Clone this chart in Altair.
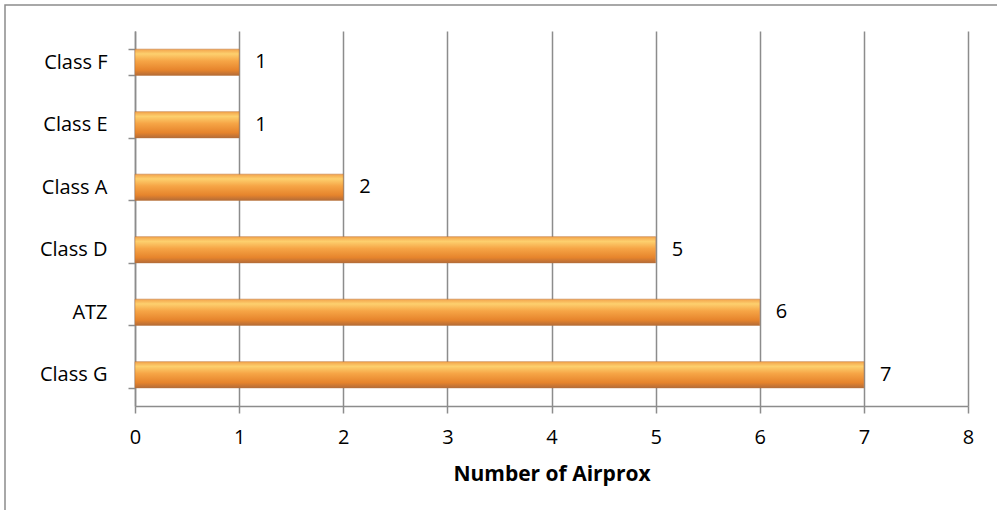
import altair as alt
import pandas as pd

categories = ["Class F", "Class E", "Class A", "Class D", "ATZ", "Class G"]
values = [1, 1, 2, 5, 6, 7]
x_ticks = [0, 1, 2, 3, 4, 5, 6, 7, 8]

df = pd.DataFrame({"zone": categories, "count": values})

FONT = "Open Sans"
GRID = "#8c8c8c"

grad = alt.Gradient(
    gradient="linear",
    x1=0, x2=0, y1=0, y2=1,
    stops=[
        alt.GradientStop(offset=0, color="#f3a24a"),
        alt.GradientStop(offset=0.18, color="#fdd06e"),
        alt.GradientStop(offset=0.45, color="#f6a546"),
        alt.GradientStop(offset=0.8, color="#e6842c"),
        alt.GradientStop(offset=1, color="#b56c38"),
    ],
)

base = alt.Chart(df)

y_enc = alt.Y(
    "zone:N",
    sort=categories,
    title=None,
    scale=alt.Scale(paddingInner=0.58, paddingOuter=0.29),
    axis=alt.Axis(
        tickBand="extent",
        tickSize=7,
        tickColor=GRID,
        tickWidth=1.5,
        domainColor=GRID,
        domainWidth=1.5,
        labelFont=FONT,
        labelFontSize=20,
        labelColor="#000000",
        labelPadding=21,
        grid=False,
    ),
)

x_enc = alt.X(
    "count:Q",
    title="Number of Airprox",
    scale=alt.Scale(domain=[0, 8], nice=False),
    axis=alt.Axis(
        values=x_ticks,
        tickSize=7,
        tickColor=GRID,
        tickWidth=1.5,
        domainColor=GRID,
        domainWidth=1.5,
        gridColor=GRID,
        gridWidth=1.5,
        labelFont=FONT,
        labelFontSize=20,
        labelColor="#000000",
        labelPadding=14,
        labelFlush=False,
        titleFont=FONT,
        titleFontSize=21,
        titleFontWeight="bold",
        titleColor="#000000",
        titlePadding=16,
        format="d",
    ),
)

frame = alt.Chart(pd.DataFrame({"a": [0]})).mark_rect(
    fill=None, stroke="#8c8c8c", strokeWidth=1.5
).encode(
    x=alt.value(-130), y=alt.value(-26), x2=alt.value(880), y2=alt.value(500)
)

bars = base.mark_bar(fill=grad, stroke="#b8733a", strokeWidth=0.5).encode(y=y_enc, x=x_enc)

labels = base.mark_text(
    align="left", baseline="middle", dx=16, font=FONT, fontSize=20, color="#000000"
).encode(y=alt.Y("zone:N", sort=categories), x="count:Q", text="count:Q")

chart = (
    alt.layer(frame, bars, labels)
    .properties(
        width=833,
        height=375,
        autosize=alt.AutoSizeParams(type="none"),
        padding={"left": 135, "top": 31, "right": 29, "bottom": 104},
        background="white",
    )
    .configure_view(stroke=None)
)

chart.save("out.html", embed_options={"renderer": "svg", "actions": False})
